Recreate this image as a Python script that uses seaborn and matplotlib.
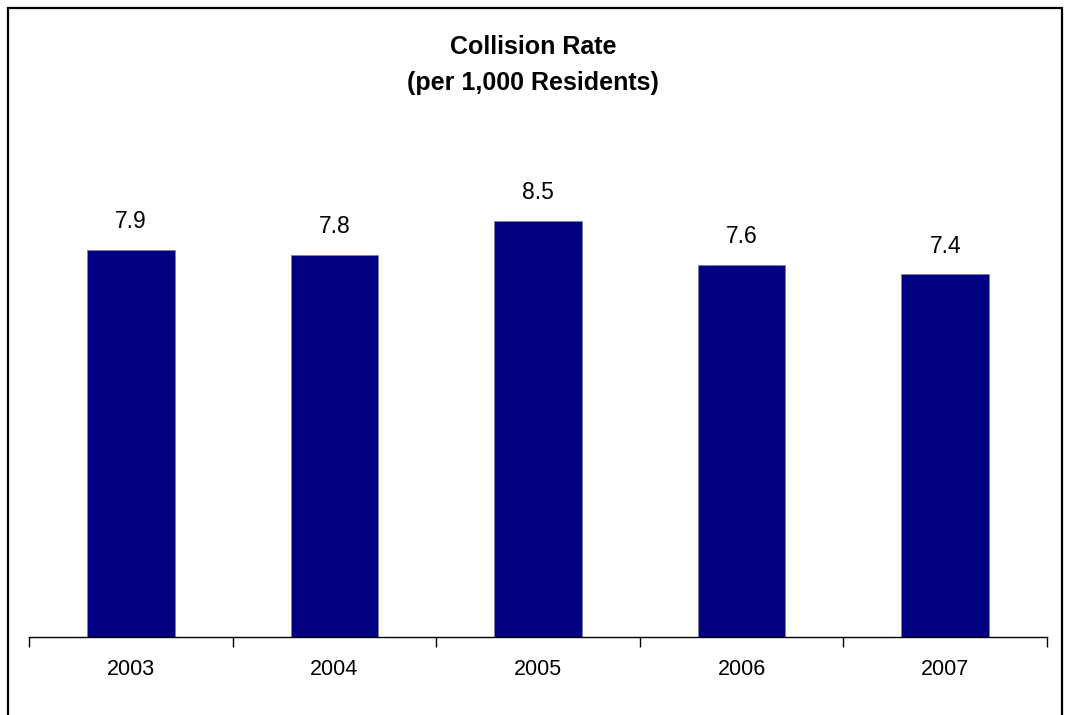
import matplotlib
matplotlib.use("Agg")
import matplotlib.pyplot as plt
from matplotlib.patches import Rectangle
import seaborn as sns
import pandas as pd
import numpy as np

years = ["2003", "2004", "2005", "2006", "2007"]
rates = [7.9, 7.8, 8.5, 7.6, 7.4]
title = "Collision Rate\n(per 1,000 Residents)"

sns.set_theme(style="white")
plt.rcParams["font.family"] = ["Liberation Sans", "DejaVu Sans"]
plt.rcParams["text.color"] = "black"

df = pd.DataFrame({"year": years, "rate": rates})

W, H = 1066, 715
fig = plt.figure(figsize=(W / 100, H / 100), dpi=100)
ax = fig.add_axes([29 / W, (H - 637) / H, (1047 - 29) / W, (637 - 147) / H])

sns.barplot(data=df, x="year", y="rate", color="#000080", width=0.43,
            saturation=1, ax=ax, edgecolor="#8080b0", linewidth=0.6)

ax.set_ylim(0, 10)
ax.set_xlim(-0.5, len(years) - 0.5)
ax.set_xlabel("")
ax.set_ylabel("")
ax.set_yticks([])
for s in ["top", "right", "left"]:
    ax.spines[s].set_visible(False)
ax.spines["bottom"].set_color("black")
ax.spines["bottom"].set_linewidth(1.0)

ax.set_xticks(np.arange(len(years)))
ax.set_xticklabels(years, fontsize=15.5, color="black")
ax.tick_params(axis="x", which="major", length=0, pad=16)
ax.set_xticks(np.arange(-0.5, len(years)), minor=True)
ax.tick_params(axis="x", which="minor", length=7, width=1, color="black",
               direction="out", bottom=True)

for i, v in enumerate(rates):
    ax.annotate(f"{v:.1f}", xy=(i, v), xytext=(0, 12), textcoords="offset points",
                ha="center", va="bottom", fontsize=16.5, color="black")

fig.text(0.5, (H - 65) / H, title, ha="center", va="center", fontsize=18,
         fontweight="bold", linespacing=1.6, color="black")

frame = Rectangle((8 / W, -0.1), (1062 - 8) / W, (H - 8) / H + 0.1,
                  transform=fig.transFigure, fill=False, edgecolor="black",
                  linewidth=1.6, clip_on=False)
fig.patches.append(frame)

fig.savefig("out.png", dpi=100, facecolor="white")
